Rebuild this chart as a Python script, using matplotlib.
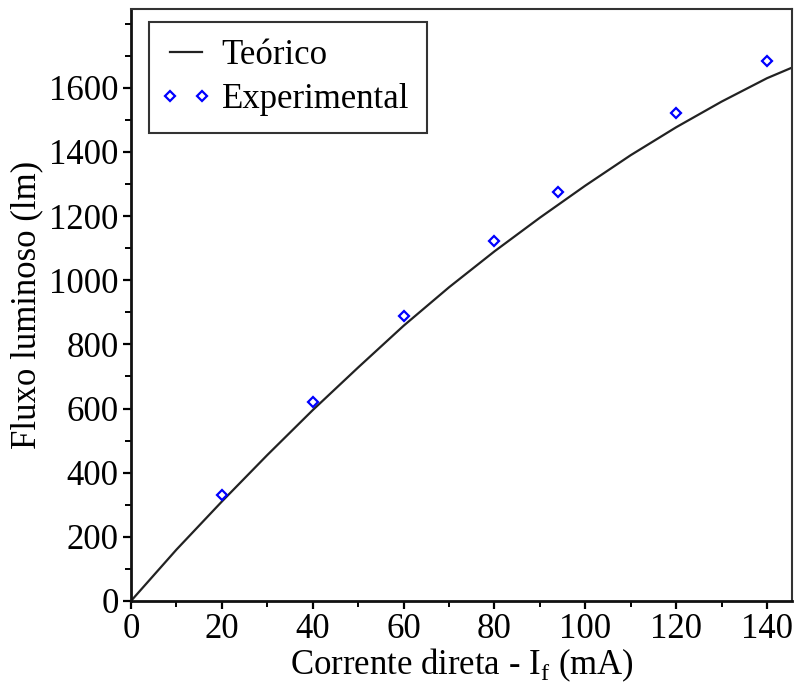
import matplotlib
matplotlib.use('Agg')
import matplotlib.pyplot as plt
from matplotlib.ticker import MultipleLocator
from matplotlib.lines import Line2D
from matplotlib.legend_handler import HandlerLine2D

plt.rcParams['font.family'] = ['Liberation Serif', 'DejaVu Serif']
plt.rcParams['mathtext.fontset'] = 'custom'
plt.rcParams['mathtext.rm'] = 'Liberation Serif'

# theoretical curve
teo_x = [0, 10, 20, 30, 40, 50, 60, 70, 80, 90, 100, 110, 120, 130, 140, 145.5]
teo_y = [0, 160, 310, 455, 595, 728, 858, 978, 1090, 1195, 1295, 1390, 1477, 1557, 1630, 1663]

# measured points
exp_x = [20, 40, 60, 80, 94, 120, 140]
exp_y = [330, 621, 887, 1123, 1276, 1522, 1684]

fig = plt.figure(figsize=(7.94, 6.86), dpi=100)
ax = fig.add_axes([0.165, 0.124, 0.8325, 0.863])

ax.plot(teo_x, teo_y, color='#222222', lw=1.6, label='Teórico')
ax.plot(exp_x, exp_y, ls='none', marker='D', ms=5, mfc='white', mec='#0000ff', mew=1.6,
        label='Experimental')

ax.set_xlim(0, 145.5)
ax.set_ylim(0, 1846)
ax.xaxis.set_major_locator(MultipleLocator(20))
ax.xaxis.set_minor_locator(MultipleLocator(10))
ax.yaxis.set_major_locator(MultipleLocator(200))
ax.yaxis.set_minor_locator(MultipleLocator(100))
ax.set_yticks(range(0, 1601, 200))

ax.tick_params(which='major', direction='out', length=6, width=1.6, labelsize=25, pad=3,
               top=False, right=False)
ax.tick_params(which='minor', direction='out', length=4, width=1.4, top=False, right=False)

for s in ['left', 'bottom']:
    ax.spines[s].set_linewidth(2.0)
    ax.spines[s].set_color('#111111')
for s in ['top', 'right']:
    ax.spines[s].set_linewidth(1.5)
    ax.spines[s].set_color('#333333')

ax.set_xlabel(r'Corrente direta - I$_{\mathregular{f}}$ (mA)', fontsize=25, labelpad=0)
ax.set_ylabel('Fluxo luminoso (lm)', fontsize=25, labelpad=4)

leg = ax.legend(loc='upper left', bbox_to_anchor=(0.027, 0.978), fontsize=25, numpoints=2,
                fancybox=False, framealpha=1, edgecolor='#333333', handlelength=1.15,
                handletextpad=0.45, borderpad=0.5, labelspacing=0.3, borderaxespad=0,
                handler_map={Line2D: HandlerLine2D(marker_pad=0.12)})
leg.get_frame().set_linewidth(1.5)

fig.savefig('out.png', dpi=100)
